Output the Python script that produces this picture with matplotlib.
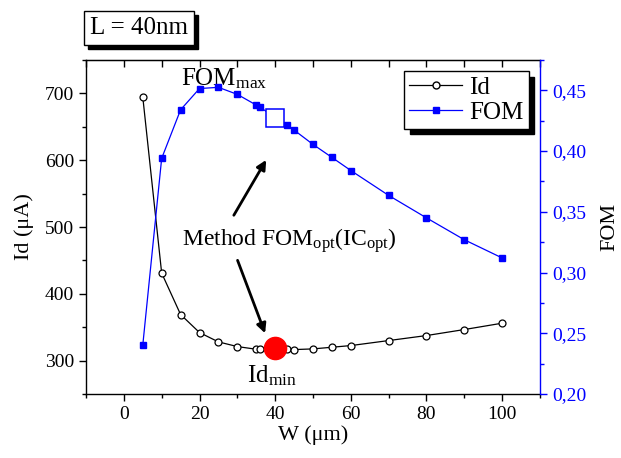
import matplotlib
matplotlib.use("Agg")
import matplotlib.pyplot as plt
from matplotlib.patches import Rectangle
from matplotlib.ticker import MultipleLocator
from matplotlib.lines import Line2D

plt.rcParams["font.family"] = ["Liberation Serif", "DejaVu Serif"]
plt.rcParams["mathtext.fontset"] = "custom"
plt.rcParams["mathtext.rm"] = "Liberation Serif"
plt.rcParams["mathtext.it"] = "Liberation Serif:italic"

# data
W = [5, 10, 15, 20, 25, 30, 35, 36, 40, 43, 45, 50, 55, 60, 70, 80, 90, 100]
ID = [695, 431, 369, 342, 328, 321, 317, 317, 319, 317, 316.5, 317.5, 320,
      322.5, 330, 337.5, 346.5, 356]
FOM = [0.240, 0.394, 0.434, 0.4515, 0.4525, 0.4467, 0.4379, 0.4362, 0.4275,
       0.4212, 0.4173, 0.4055, 0.3948, 0.384, 0.3635, 0.345, 0.327, 0.312]
W_OPT = 40
ID_OPT = 319
FOM_OPT = 0.4275

fig = plt.figure(figsize=(6.21, 4.58), dpi=100)
ax = fig.add_axes([86 / 621, 64 / 458, 454 / 621, 334 / 458])
ax2 = ax.twinx()

ax.plot(W, ID, color="black", lw=0.9, marker="o", ms=5, mfc="white",
        mec="black", mew=0.9, zorder=3)
ax.plot([W_OPT], [ID_OPT], "o", color="red", ms=16, zorder=5)

ax2.plot(W, FOM, color="blue", lw=0.9, marker="s", ms=5, mfc="blue",
         mec="blue", zorder=3)
ax2.plot([W_OPT], [FOM_OPT], "s", ms=13, mfc="white", mec="blue", mew=1.1,
         zorder=4)

ax.set_xlim(-10, 110)
ax.set_ylim(250, 750)
ax2.set_ylim(0.2, 0.475)

ax.xaxis.set_major_locator(MultipleLocator(20))
ax.xaxis.set_minor_locator(MultipleLocator(10))
ax.yaxis.set_major_locator(MultipleLocator(100))
ax.yaxis.set_minor_locator(MultipleLocator(50))
ax2.yaxis.set_major_locator(MultipleLocator(0.05))
ax2.yaxis.set_minor_locator(MultipleLocator(0.025))
ax2.yaxis.set_major_formatter(
    plt.FuncFormatter(lambda v, p: f"{v:.2f}".replace(".", ",")))

ax.tick_params(axis="both", which="major", direction="out", length=5,
               labelsize=14, width=1)
ax.tick_params(axis="both", which="minor", direction="out", length=3, width=1)
ax2.tick_params(axis="y", which="major", direction="out", length=5,
                labelsize=14, colors="blue", width=1)
ax2.tick_params(axis="y", which="minor", direction="out", length=3,
                colors="blue", width=1)

top = ax.secondary_xaxis("top")
top.xaxis.set_major_locator(MultipleLocator(10))
top.tick_params(direction="in", length=5, labeltop=False, width=1)

ax.spines["right"].set_visible(False)
ax2.spines["right"].set_color("blue")
ax2.spines["left"].set_visible(False)
ax2.spines["top"].set_visible(False)
ax2.spines["bottom"].set_visible(False)
for s in ["left", "bottom", "top"]:
    ax.spines[s].set_linewidth(1)
ax2.spines["right"].set_linewidth(1)

ax.set_xlabel("W (μm)", fontsize=16, labelpad=2)
ax.set_ylabel("Id (μA)", fontsize=16, labelpad=8)
ax2.set_ylabel("FOM", fontsize=16, labelpad=10)

# annotations
ax.text(15.1, 712, r"FOM$_{\mathrm{max}}$", fontsize=18, va="baseline")
ax.text(15.3, 472, r"Method FOM$_{\mathrm{opt}}$(IC$_{\mathrm{opt}}$)",
        fontsize=17, va="baseline")
ax.text(32.5, 268, r"Id$_{\mathrm{min}}$", fontsize=18, va="baseline")
ax.annotate("", xy=(38.0, 604), xytext=(28.7, 514),
            arrowprops=dict(arrowstyle="-|>", color="black", lw=2,
                            mutation_scale=14))
ax.annotate("", xy=(37.6, 337), xytext=(29.8, 454),
            arrowprops=dict(arrowstyle="-|>", color="black", lw=2,
                            mutation_scale=14))

handles = [
    Line2D([], [], color="black", lw=0.9, marker="o", ms=5, mfc="white",
           mec="black"),
    Line2D([], [], color="blue", lw=0.9, marker="s", ms=5, mfc="blue",
           mec="blue"),
]
leg = ax2.legend(handles, ["Id", "FOM"], loc="upper right", fontsize=18,
                 frameon=True, fancybox=False, handlelength=2.1,
                 handletextpad=0.3, borderpad=0.2, labelspacing=0.1,
                 borderaxespad=0.45,
                 shadow={"color": "black", "alpha": 1, "ox": 4, "oy": -4})
leg.get_frame().set_edgecolor("black")
leg.get_frame().set_linewidth(1)

# "L = 40nm" box with a solid shadow drawn as a plain rectangle
label = fig.text(90 / 621, 1 - 39 / 458, "L = 40nm", fontsize=18,
                 ha="left", va="bottom", zorder=3,
                 bbox=dict(boxstyle="square,pad=0.25", fc="white",
                           ec="black", lw=1))
fig.canvas.draw()
bb = label.get_bbox_patch().get_window_extent()
fig.patches.append(Rectangle((bb.x0 + 4, bb.y0 - 4), bb.width, bb.height,
                             transform=None, fc="black", ec="black",
                             zorder=2))

fig.savefig("out.png", dpi=100)
